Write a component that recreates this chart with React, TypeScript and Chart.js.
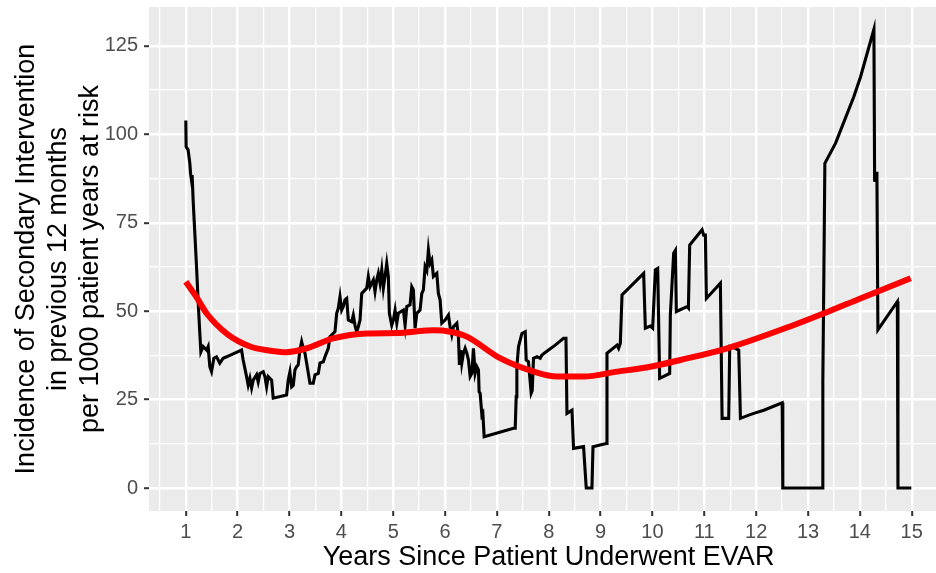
import React, { useEffect, useRef } from "react";
import { Chart, registerables } from "chart.js";

Chart.register(...registerables);

// Observed incidence (black line)
const blackX = [
  1.0, 1.006, 1.044, 1.077, 1.091, 1.11, 1.122, 1.141, 1.174, 1.207, 1.237, 1.27, 1.29, 1.334, 1.4, 1.431,
  1.463, 1.496, 1.541, 1.593, 1.656, 1.72, 1.786, 2.075, 2.106, 2.172, 2.203, 2.236, 2.269, 2.3, 2.365, 2.396,
  2.429, 2.493, 2.525, 2.558, 2.589, 2.655, 2.686, 2.944, 2.975, 3.008, 3.041, 3.072, 3.105, 3.137, 3.168, 3.201,
  3.234, 3.265, 3.298, 3.331, 3.394, 3.458, 3.491, 3.555, 3.587, 3.651, 3.684, 3.748, 3.78, 3.844, 3.877, 3.91,
  3.941, 3.974, 4.006, 4.037, 4.07, 4.103, 4.134, 4.199, 4.23, 4.263, 4.296, 4.327, 4.36, 4.393, 4.489, 4.52,
  4.553, 4.617, 4.649, 4.682, 4.713, 4.746, 4.779, 4.81, 4.842, 4.875, 4.906, 4.926, 4.972, 5.003, 5.036, 5.069,
  5.099, 5.196, 5.229, 5.262, 5.325, 5.358, 5.389, 5.422, 5.455, 5.518, 5.551, 5.582, 5.615, 5.648, 5.679, 5.711,
  5.744, 5.775, 5.841, 5.871, 5.904, 5.937, 6.001, 6.065, 6.097, 6.13, 6.161, 6.227, 6.258, 6.277, 6.304, 6.323,
  6.354, 6.387, 6.42, 6.451, 6.484, 6.517, 6.547, 6.58, 6.613, 6.644, 6.657, 6.677, 6.71, 6.729, 6.754, 7.32,
  7.353, 7.372, 7.385, 7.417, 7.482, 7.546, 7.565, 7.609, 7.661, 7.681, 7.706, 7.772, 7.835, 7.868, 7.996, 8.125,
  8.285, 8.332, 8.351, 8.448, 8.478, 8.671, 8.723, 8.833, 8.853, 9.11, 9.123, 9.316, 9.347, 9.38, 9.413, 9.83,
  9.863, 9.959, 10.004, 10.056, 10.101, 10.139, 10.332, 10.345, 10.409, 10.442, 10.461, 10.668, 10.693, 10.718,
  10.957, 10.988, 11.021, 11.04, 11.31, 11.343, 11.471, 11.49, 11.6, 11.664, 11.697, 11.857, 11.954, 12.147,
  12.502, 12.514, 13.275, 13.286, 13.306, 13.325, 13.532, 13.885, 14.014, 14.271, 14.285, 14.304, 14.329, 14.348,
  14.723, 14.735, 14.993,
];
const blackY = [
  103.9, 96.5, 95.6, 91.9, 89, 87, 88.5, 81.4, 72, 62.5, 53, 43.8, 38.5, 40, 39, 40,
  34.3, 32.9, 36.7, 37.1, 35.3, 36.7, 37.1, 39, 36.2, 31.5, 29.1, 31, 28.3, 30.5, 32, 30,
  32.4, 32.9, 31.5, 28.6, 31.5, 30.5, 25.4, 26.3, 30.5, 32.9, 28.6, 29, 33.4, 34.3, 34.8, 39,
  41.4, 39.5, 38.1, 35.3, 29.6, 29.6, 32, 32.4, 35.3, 35.7, 37.1, 39.5, 42.8, 43.7, 44.2, 49.4,
  50.8, 54.1, 50.3, 51.3, 53.2, 53.6, 47.5, 47, 48.9, 46, 44.2, 45.6, 47.5, 55, 56.5, 59.8,
  56.9, 58.8, 55.5, 58.8, 60.7, 57.9, 61.7, 56.5, 59.8, 63.5, 59.8, 49.4, 46, 47.5, 50.3, 46.6,
  49.4, 50.3, 46, 51.3, 51.8, 56.9, 56, 45.2, 49.4, 50.3, 55, 56, 62.6, 61.5, 67.3, 63.5,
  64.5, 59.8, 60.7, 55, 53.2, 46.6, 47.5, 48.9, 45.6, 43.3, 45.6, 46.6, 42.8, 34.8, 39, 35.3,
  38.1, 39.5, 38.1, 36.2, 31.5, 32.4, 39.5, 32.4, 34.3, 33.4, 27.2, 26.8, 20.6, 21.1, 14.5, 16.9,
  16.9, 25.8, 34.3, 40, 43.7, 44.2, 36.2, 35.7, 26.8, 27.5, 36.7, 37.1, 36.7, 37.6, 39, 40.4,
  42.3, 42.3, 21.1, 22, 11.2, 11.7, 0, 0, 11.7, 12.6, 38.1, 40.4, 39.5, 40.9, 54.6, 60.7,
  45.2, 45.8, 45.2, 61.7, 62.1, 31, 32.4, 48.9, 66.4, 67.2, 49.9, 51.3, 50.9, 68.7,
  73, 71.5, 71.5, 53.6, 57.9, 19.7, 19.7, 40, 39.5, 39, 19.7, 20.6, 21.1, 22,
  24.1, 0, 0, 30, 60.7, 91.8, 97.5, 110.7, 116.3, 129.7, 86.6, 89, 89, 44.7,
  52.7, 0, 0,
];

// Smoothed trend (red line)
const redX = [1.0, 1.2, 1.4, 1.8, 2.24, 2.6, 2.94, 3.33, 3.84, 4.49, 5.13, 5.39, 5.78, 6.1, 6.42, 7.06, 7.71, 8.16, 8.67, 9.32, 9.96, 10.54, 11.44, 12.73, 13.31, 14.01, 14.98];
const redY = [58.3, 54.1, 49.4, 43.5, 40, 38.9, 38.4, 39.5, 42.3, 43.7, 43.8, 44.2, 44.6, 44.2, 42.8, 36.7, 32.9, 31.5, 31.5, 32.9, 34.3, 36.2, 39.5, 46.1, 49.4, 53.6, 59.3];

const xMajorTicks = [1, 2, 3, 4, 5, 6, 7, 8, 9, 10, 11, 12, 13, 14, 15];
const xMinorTicks = [0.5, 1.5, 2.5, 3.5, 4.5, 5.5, 6.5, 7.5, 8.5, 9.5, 10.5, 11.5, 12.5, 13.5, 14.5, 15.5];
const yMajorTicks = [0, 25, 50, 75, 100, 125];
const yMinorTicks = [12.5, 37.5, 62.5, 87.5, 112.5];

const xTitle = "Years Since Patient Underwent EVAR";
const yTitle = ["Incidence of Secondary Intervention", "in previous 12 months", "per 1000 patient years at risk"];

const FONT = "'Liberation Sans', Arial, Helvetica, sans-serif";

const panelBg = {
  id: "panelBg",
  beforeDraw(chart: any) {
    const { ctx, chartArea } = chart;
    if (!chartArea) return;
    ctx.save();
    ctx.fillStyle = "#EBEBEB";
    ctx.fillRect(chartArea.left, chartArea.top, chartArea.right - chartArea.left, chartArea.bottom - chartArea.top);
    ctx.restore();
  },
};

function makeTicks(major: number[], minor: number[]) {
  return [...major.map((v) => ({ value: v, isMajor: true })), ...minor.map((v) => ({ value: v, isMajor: false }))].sort(
    (a, b) => a.value - b.value
  );
}

export default function App() {
  const ref = useRef<HTMLCanvasElement | null>(null);

  useEffect(() => {
    if (!ref.current) return;
    const blackData = blackX.map((x, i) => ({ x, y: blackY[i] }));
    const redData = redX.map((x, i) => ({ x, y: redY[i] }));

    const isMajorCtx = (c: any) => !!(c.tick && c.tick.isMajor);

    const chart = new Chart(ref.current, {
      type: "line",
      data: {
        datasets: [
          {
            data: redData,
            borderColor: "#FF0000",
            borderWidth: 6,
            pointRadius: 0,
            tension: 0.4,
            cubicInterpolationMode: "monotone",
            fill: false,
          },
          {
            data: blackData,
            borderColor: "#000000",
            borderWidth: 3.1,
            pointRadius: 0,
            tension: 0,
            fill: false,
            borderJoinStyle: "miter",
          },
        ],
      },
      options: {
        animation: false,
        responsive: false,
        maintainAspectRatio: false,
        layout: { padding: { top: 7, right: 0, bottom: 0, left: 0 } },
        plugins: { legend: { display: false }, tooltip: { enabled: false } },
        scales: {
          x: {
            type: "linear",
            min: 0.29,
            max: 15.7,
            afterBuildTicks: (scale: any) => {
              scale.ticks = makeTicks(xMajorTicks, xMinorTicks);
            },
            afterFit: (scale: any) => {
              scale.height = 62;
              scale.paddingLeft = 0;
              scale.paddingRight = 0;
            },
            border: { display: false },
            grid: {
              color: "#FFFFFF",
              lineWidth: (c: any) => (isMajorCtx(c) ? 2.4 : 1.3),
              tickColor: (c: any) => (isMajorCtx(c) ? "#333333" : "rgba(0,0,0,0)"),
              tickWidth: 2,
              tickLength: 5,
            },
            ticks: {
              autoSkip: false,
              maxRotation: 0,
              padding: 4,
              color: "#4D4D4D",
              font: { family: FONT, size: 20 },
              callback: (v: any) => (Number.isInteger(v) ? String(v) : ""),
            },
            title: {
              display: true,
              text: xTitle,
              color: "#000000",
              font: { family: FONT, size: 27 },
              padding: { top: 0, bottom: -1 },
            },
          },
          y: {
            type: "linear",
            min: -6.5,
            max: 136,
            afterBuildTicks: (scale: any) => {
              scale.ticks = makeTicks(yMajorTicks, yMinorTicks);
            },
            afterFit: (scale: any) => {
              scale.width = 149;
              scale.paddingTop = 0;
              scale.paddingBottom = 0;
            },
            border: { display: false },
            grid: {
              color: "#FFFFFF",
              lineWidth: (c: any) => (isMajorCtx(c) ? 2.4 : 1.3),
              tickColor: (c: any) => (isMajorCtx(c) ? "#333333" : "rgba(0,0,0,0)"),
              tickWidth: 2,
              tickLength: 5,
            },
            ticks: {
              autoSkip: false,
              padding: 6,
              color: "#4D4D4D",
              font: { family: FONT, size: 20 },
              callback: (v: any) => (v % 25 === 0 ? String(v) : ""),
            },
            title: {
              display: true,
              text: yTitle,
              color: "#000000",
              font: { family: FONT, size: 27, lineHeight: 1.185 },
              padding: { top: 11, bottom: 0 },
            },
          },
        },
      },
      plugins: [panelBg],
    } as any);

    return () => chart.destroy();
  }, []);

  return (
    <div style={{ position: "fixed", left: 0, top: 0, width: 936, height: 573, overflow: "hidden", background: "#FFFFFF" }}>
      <canvas ref={ref} width={948} height={573} style={{ display: "block", width: 948, height: 573 }} />
    </div>
  );
}
